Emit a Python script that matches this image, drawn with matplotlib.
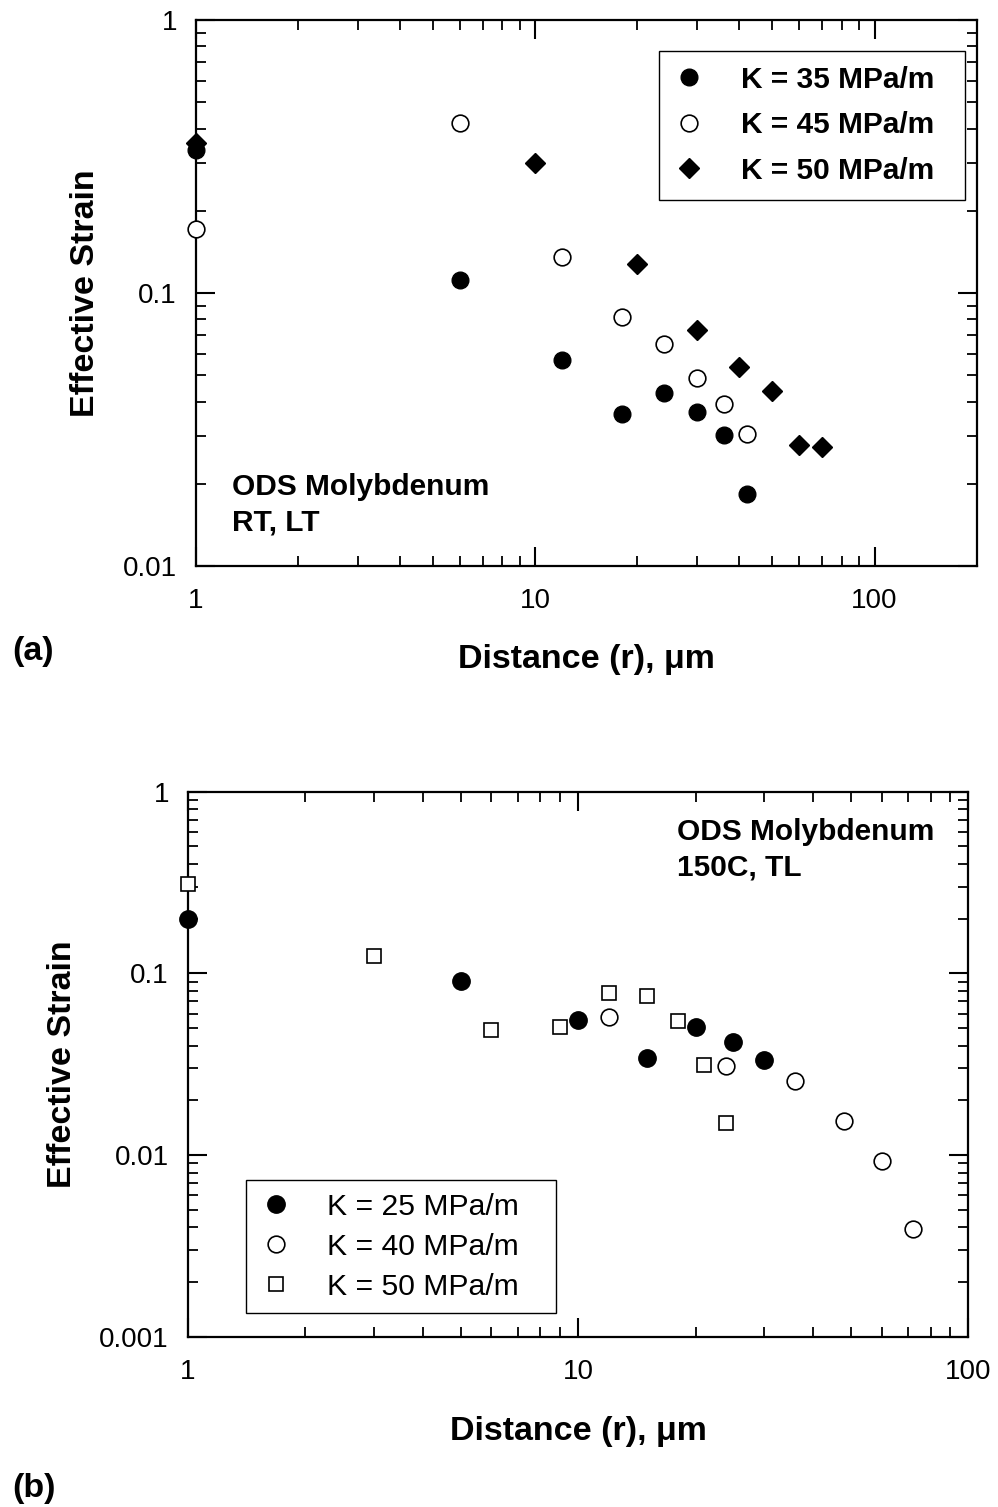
import numpy as np
import matplotlib
matplotlib.use('Agg')
import matplotlib.pyplot as plt
from matplotlib.ticker import LogLocator, FuncFormatter, NullFormatter

plt.rcParams['font.family'] = ['Liberation Sans', 'DejaVu Sans']

# (a) ODS Molybdenum, RT, LT
r_35 = [1, 6, 12, 18, 24, 30, 36, 42]
eps_35 = [0.334, 0.112, 0.057, 0.0362, 0.0429, 0.0366, 0.0302, 0.0183]
r_45 = [1, 6, 12, 18, 24, 30, 36, 42]
eps_45 = [0.172, 0.42, 0.136, 0.082, 0.065, 0.049, 0.0392, 0.0304]
r_50a = [1, 10, 20, 30, 40, 50, 60, 70]
eps_50a = [0.353, 0.300, 0.128, 0.0732, 0.0537, 0.0437, 0.0277, 0.0273]

# (b) ODS Molybdenum, 150C, TL
r_25 = [1, 5, 10, 15, 20, 25, 30]
eps_25 = [0.20, 0.091, 0.055, 0.0344, 0.0507, 0.042, 0.0332]
r_40 = [12, 24, 36, 48, 60, 72]
eps_40 = [0.0578, 0.0308, 0.0256, 0.0154, 0.0093, 0.0039]
r_50b = [1, 3, 6, 9, 12, 15, 18, 21, 24]
eps_50b = [0.309, 0.1245, 0.0488, 0.0508, 0.0784, 0.0753, 0.0546, 0.0314, 0.0150]

xlabel = 'Distance (r), \u03bcm'
ylabel = 'Effective Strain'


def style_axes(ax, xlim, ylim):
    ax.set_xscale('log')
    ax.set_yscale('log')
    ax.set_xlim(*xlim)
    ax.set_ylim(*ylim)
    fmt = FuncFormatter(lambda v, p: f'{v:g}')
    for axis in (ax.xaxis, ax.yaxis):
        axis.set_major_locator(LogLocator(base=10, numticks=10))
        axis.set_minor_locator(LogLocator(base=10, subs=np.arange(2, 10), numticks=10))
        axis.set_major_formatter(fmt)
        axis.set_minor_formatter(NullFormatter())
    ax.tick_params(which='both', direction='in', top=True, right=True, labelsize=20)
    ax.tick_params(axis='x', which='both', pad=16)
    ax.tick_params(axis='y', which='both', pad=13.5)
    ax.tick_params(which='major', length=14, width=1.5)
    ax.tick_params(which='minor', length=7, width=1.3)
    for s in ax.spines.values():
        s.set_linewidth(1.6)


fig = plt.figure(figsize=(9.98, 15.07), dpi=100)

# ---- panel (a)
ax1 = fig.add_axes([0.1961, 0.6244, 0.7826, 0.3623])
ax1.plot(r_35, eps_35, 'o', ms=12, color='black', label='K = 35 MPa/m', clip_on=False, zorder=3)
ax1.plot(r_45, eps_45, 'o', ms=12, mfc='white', mec='black', mew=1.2, label='K = 45 MPa/m', clip_on=False, zorder=3)
ax1.plot(r_50a, eps_50a, 'D', ms=10, color='black', label='K = 50 MPa/m', clip_on=False, zorder=3)
style_axes(ax1, (1, 200), (0.01, 1))
ax1.set_xlabel(xlabel, fontsize=24.5, fontweight='bold', va='center')
ax1.set_ylabel(ylabel, fontsize=24.5, fontweight='bold', va='center')
ax1.xaxis.set_label_coords(0.5, -0.1703)
ax1.yaxis.set_label_coords(-0.1405, 0.5)
ax1.text(0.0461, 0.130, 'ODS Molybdenum', transform=ax1.transAxes, fontsize=21.5, fontweight='bold', va='baseline')
ax1.text(0.0461, 0.0659, 'RT, LT', transform=ax1.transAxes, fontsize=21.5, fontweight='bold', va='baseline')
leg1 = ax1.legend(loc='upper left', bbox_to_anchor=(0.5936, 0.9438, 0.3914, 0), mode='expand',
                  borderaxespad=0, fancybox=False, edgecolor='black', framealpha=1, numpoints=1,
                  prop={'weight': 'bold', 'size': 21.5}, handlelength=0.96,
                  handletextpad=1.26, borderpad=0.5, labelspacing=0.59)
leg1.get_frame().set_linewidth(1.0)

# ---- panel (b)
ax2 = fig.add_axes([0.1881, 0.1130, 0.7822, 0.3617])
ax2.plot(r_25, eps_25, 'o', ms=12.5, color='black', label='K = 25 MPa/m', clip_on=False, zorder=3)
ax2.plot(r_40, eps_40, 'o', ms=12, mfc='white', mec='black', mew=1.2, label='K = 40 MPa/m', clip_on=False, zorder=3)
ax2.plot(r_50b, eps_50b, 's', ms=10, mfc='white', mec='black', mew=1.2, label='K = 50 MPa/m', clip_on=False, zorder=3)
style_axes(ax2, (1, 100), (0.001, 1))
ax2.set_xlabel(xlabel, fontsize=24.5, fontweight='bold', va='center')
ax2.set_ylabel(ylabel, fontsize=24.5, fontweight='bold', va='center')
ax2.xaxis.set_label_coords(0.5, -0.173)
ax2.yaxis.set_label_coords(-0.161, 0.5)
ax2.text(0.6262, 0.9112, 'ODS Molybdenum', transform=ax2.transAxes, fontsize=21.5, fontweight='bold', va='baseline')
ax2.text(0.6262, 0.847, '150C, TL', transform=ax2.transAxes, fontsize=21.5, fontweight='bold', va='baseline')
leg2 = ax2.legend(loc='upper left', bbox_to_anchor=(0.0751, 0.2875, 0.3962, 0), mode='expand',
                  borderaxespad=0, fancybox=False, edgecolor='black', framealpha=1, numpoints=1,
                  prop={'size': 21.7}, handlelength=1.1,
                  handletextpad=1.16, borderpad=0.42, labelspacing=0.4)
leg2.get_frame().set_linewidth(1.0)

fig.text(33 / 998, 1 - 652 / 1507, '(a)', fontsize=24.5, fontweight='bold', ha='center', va='center')
fig.text(34.5 / 998, 1 - 1489 / 1507, '(b)', fontsize=24.5, fontweight='bold', ha='center', va='center')

fig.savefig('out.png', dpi=100)
